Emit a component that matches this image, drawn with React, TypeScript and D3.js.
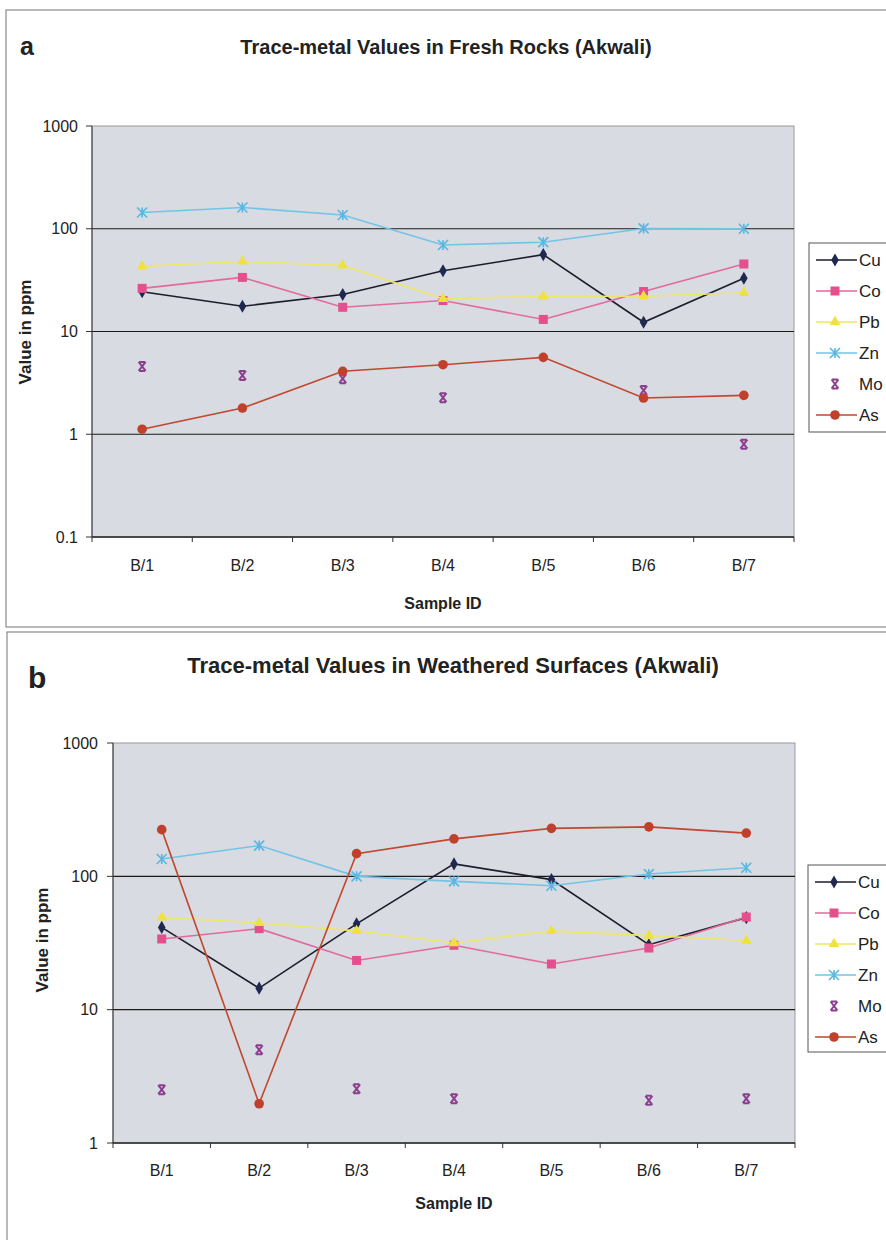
import React from 'react';
import * as d3 from 'd3';

const samples = ['B/1', 'B/2', 'B/3', 'B/4', 'B/5', 'B/6', 'B/7'];
const metals = ['Cu', 'Co', 'Pb', 'Zn', 'Mo', 'As'];

// panel a: fresh rocks
const freshCu = [24.4, 17.6, 22.9, 39, 56, 12.3, 33];
const freshCo = [26.3, 33.6, 17.2, 20, 13.1, 24.5, 45.4];
const freshPb = [43, 48, 44, 20.8, 22, 22, 23.8];
const freshZn = [144, 161, 136, 69.5, 74, 100.7, 100];
const freshMo = [4.57, 3.74, 3.47, 2.27, null, 2.67, 0.8];
const freshAs = [1.12, 1.8, 4.1, 4.75, 5.6, 2.25, 2.39];
const freshTicks = ['0.1', '1', '10', '100', '1000'];

// panel b: weathered surfaces
const weathCu = [41.4, 14.5, 44, 124, 94.5, 30.7, 49];
const weathCo = [33.9, 40.5, 23.4, 30.4, 22, 29, 49.5];
const weathPb = [49.2, 44.7, 39, 31.6, 39, 35.9, 33];
const weathZn = [135, 170, 100, 91.7, 85, 104, 116];
const weathMo = [2.51, 5.0, 2.55, 2.15, null, 2.09, 2.15];
const weathAs = [224, 1.97, 148, 191, 229, 235, 211];
const weathTicks = ['1', '10', '100', '1000'];

const styles: Record<string, { line: string; fill: string; shape: string; noLine?: boolean }> = {
  Cu: { line: '#1c1c2c', fill: '#1f2850', shape: 'diamond' },
  Co: { line: '#e26a9c', fill: '#e4508e', shape: 'square' },
  Pb: { line: '#eee66a', fill: '#efe23c', shape: 'triangle' },
  Zn: { line: '#72c4e6', fill: '#58b6e2', shape: 'star' },
  Mo: { line: '#8b3f8e', fill: '#8b3f8e', shape: 'x', noLine: true },
  As: { line: '#c2472f', fill: '#c0402c', shape: 'circle' },
};

function drawMarker(g: any, shape: string, x: number, y: number, color: string) {
  if (shape === 'diamond') {
    g.append('path').attr('d', d3.symbol(d3.symbolDiamond, 50)()).attr('transform', `translate(${x},${y})`).attr('fill', color);
  } else if (shape === 'square') {
    g.append('rect').attr('x', x - 4.5).attr('y', y - 4.5).attr('width', 9).attr('height', 9).attr('fill', color);
  } else if (shape === 'triangle') {
    g.append('path').attr('d', d3.symbol(d3.symbolTriangle, 50)()).attr('transform', `translate(${x},${y})`).attr('fill', color);
  } else if (shape === 'circle') {
    g.append('circle').attr('cx', x).attr('cy', y).attr('r', 4.8).attr('fill', color);
  } else if (shape === 'star') {
    const s = 5;
    g.append('path')
      .attr('d', `M${x - s},${y - s}L${x + s},${y + s}M${x - s},${y + s}L${x + s},${y - s}M${x},${y - s}L${x},${y + s}`)
      .attr('stroke', color).attr('stroke-width', 1.6).attr('fill', 'none');
  } else if (shape === 'x') {
    const s = 4.5;
    g.append('path')
      .attr('d', `M${x - s + 1},${y - s}L${x + s - 1},${y + s}M${x - s + 1},${y + s}L${x + s - 1},${y - s}M${x - 3},${y - s}L${x + 3},${y - s}M${x - 3},${y + s}L${x + 3},${y + s}`)
      .attr('stroke', color).attr('stroke-width', 2).attr('fill', 'none');
  }
}

type Panel = {
  letter: string;
  letterSize: number;
  title: string;
  titleSize: number;
  series: (number | null)[][];
  ticks: string[];
  box: [number, number, number, number];
  plot: { left: number; right: number; top: number; bottom: number };
  letterPos: [number, number];
  titleY: number;
  titleX: number;
  yLabelX: number;
  yLabelY: number;
  tickGap: number;
  xLabelY: number;
  xTitleY: number;
  legend: { x: number; y: number; h: number };
};

const panels: Panel[] = [
  {
    letter: 'a',
    letterSize: 25,
    title: 'Trace-metal Values in Fresh Rocks (Akwali)',
    titleSize: 20,
    series: [freshCu, freshCo, freshPb, freshZn, freshMo, freshAs],
    ticks: freshTicks,
    box: [6, 10, 900, 617],
    plot: { left: 92, right: 794, top: 126, bottom: 537 },
    letterPos: [20, 55],
    titleY: 54,
    titleX: 446,
    yLabelX: 25,
    yLabelY: 332,
    tickGap: 14,
    xLabelY: 571,
    xTitleY: 609,
    legend: { x: 809, y: 243, h: 189 },
  },
  {
    letter: 'b',
    letterSize: 30,
    title: 'Trace-metal Values in Weathered Surfaces (Akwali)',
    titleSize: 22,
    series: [weathCu, weathCo, weathPb, weathZn, weathMo, weathAs],
    ticks: weathTicks,
    box: [7, 632, 900, 620],
    plot: { left: 113, right: 795, top: 743, bottom: 1143 },
    letterPos: [28, 688],
    titleY: 673,
    titleX: 453,
    yLabelX: 42,
    yLabelY: 940,
    tickGap: 15,
    xLabelY: 1176,
    xTitleY: 1209,
    legend: { x: 808, y: 865, h: 187 },
  },
];

class App extends React.Component {
  ref = React.createRef<HTMLDivElement>();

  componentDidMount() {
    const root = d3.select(this.ref.current);
    root.selectAll('*').remove();
    const svg = root.append('svg').attr('width', 886).attr('height', 1240)
      .style('font-family', '"Liberation Sans", Arial, sans-serif');
    svg.append('rect').attr('width', 886).attr('height', 1240).attr('fill', 'white');

    panels.forEach(p => {
      const g = svg.append('g');
      g.append('rect').attr('x', p.box[0]).attr('y', p.box[1]).attr('width', p.box[2]).attr('height', p.box[3])
        .attr('fill', 'none').attr('stroke', '#8a8a8a').attr('stroke-width', 1.2);

      g.append('text').attr('x', p.letterPos[0]).attr('y', p.letterPos[1]).attr('font-size', p.letterSize)
        .attr('font-weight', 'bold').attr('fill', '#222').text(p.letter);
      g.append('text').attr('x', p.titleX).attr('y', p.titleY).attr('text-anchor', 'middle').attr('font-size', p.titleSize)
        .attr('font-weight', 'bold').attr('fill', '#222').text(p.title);

      const { left, right, top, bottom } = p.plot;
      const x = d3.scaleBand().domain(samples).range([left, right]);
      const y = d3.scaleLog().domain([+p.ticks[0], +p.ticks[p.ticks.length - 1]]).range([bottom, top]);
      const cx = (s: string) => (x(s) as number) + x.bandwidth() / 2;

      g.append('rect').attr('x', left).attr('y', top).attr('width', right - left).attr('height', bottom - top)
        .attr('fill', '#d8dbe1').attr('stroke', '#9a9a9a');

      // grid lines and y ticks
      p.ticks.forEach(t => {
        const yy = y(+t);
        if (+t !== +p.ticks[0] && +t !== +p.ticks[p.ticks.length - 1]) {
          g.append('line').attr('x1', left).attr('x2', right).attr('y1', yy).attr('y2', yy)
            .attr('stroke', '#1a1a1a').attr('stroke-width', 1.2);
        }
        g.append('line').attr('x1', left - 6).attr('x2', left).attr('y1', yy).attr('y2', yy).attr('stroke', '#333');
        g.append('text').attr('x', left - p.tickGap).attr('y', yy + 5.5).attr('text-anchor', 'end').attr('font-size', 16)
          .attr('fill', '#222').text(t);
      });
      g.append('line').attr('x1', left).attr('x2', left).attr('y1', top).attr('y2', bottom).attr('stroke', '#333');
      g.append('line').attr('x1', left).attr('x2', right).attr('y1', bottom).attr('y2', bottom).attr('stroke', '#222').attr('stroke-width', 1.3);

      // x ticks at category boundaries
      samples.forEach((s, i) => {
        const bx = x(s) as number;
        g.append('line').attr('x1', bx).attr('x2', bx).attr('y1', bottom).attr('y2', bottom + 5).attr('stroke', '#333');
        if (i === samples.length - 1) {
          g.append('line').attr('x1', right).attr('x2', right).attr('y1', bottom).attr('y2', bottom + 5).attr('stroke', '#333');
        }
        g.append('text').attr('x', cx(s)).attr('y', p.xLabelY).attr('text-anchor', 'middle').attr('font-size', 16)
          .attr('fill', '#222').text(s);
      });

      g.append('text').attr('x', (left + right) / 2).attr('y', p.xTitleY).attr('text-anchor', 'middle')
        .attr('font-size', 16).attr('font-weight', 'bold').attr('fill', '#222').text('Sample ID');
      g.append('text').attr('transform', `translate(${p.yLabelX + 6},${p.yLabelY}) rotate(-90)`)
        .attr('text-anchor', 'middle').attr('font-size', 17).attr('font-weight', 'bold').attr('fill', '#222')
        .text('Value in ppm');

      // series
      metals.forEach((m, k) => {
        const st = styles[m];
        const vals = p.series[k];
        if (!st.noLine) {
          const line = d3.line<number | null>()
            .defined(v => v != null)
            .x((_, i) => cx(samples[i]))
            .y(v => y(v as number));
          g.append('path').attr('d', line(vals)).attr('fill', 'none').attr('stroke', st.line).attr('stroke-width', 1.6);
        }
        vals.forEach((v, i) => {
          if (v != null) drawMarker(g, st.shape, cx(samples[i]), y(v), st.fill);
        });
      });

      // legend
      const L = p.legend;
      g.append('rect').attr('x', L.x).attr('y', L.y).attr('width', 100).attr('height', L.h)
        .attr('fill', 'white').attr('stroke', '#555');
      metals.forEach((m, k) => {
        const st = styles[m];
        const ly = L.y + 17 + k * 31;
        if (!st.noLine) {
          g.append('line').attr('x1', L.x + 7).attr('x2', L.x + 48).attr('y1', ly).attr('y2', ly)
            .attr('stroke', st.line).attr('stroke-width', 1.5);
        }
        drawMarker(g, st.shape, L.x + 26, ly, st.fill);
        g.append('text').attr('x', L.x + 50).attr('y', ly + 6).attr('font-size', 17).attr('fill', '#222').text(m);
      });
    });
  }

  render() {
    return <div ref={this.ref} style={{ position: 'absolute', left: 0, top: 0 }} />;
  }
}

export default App;
